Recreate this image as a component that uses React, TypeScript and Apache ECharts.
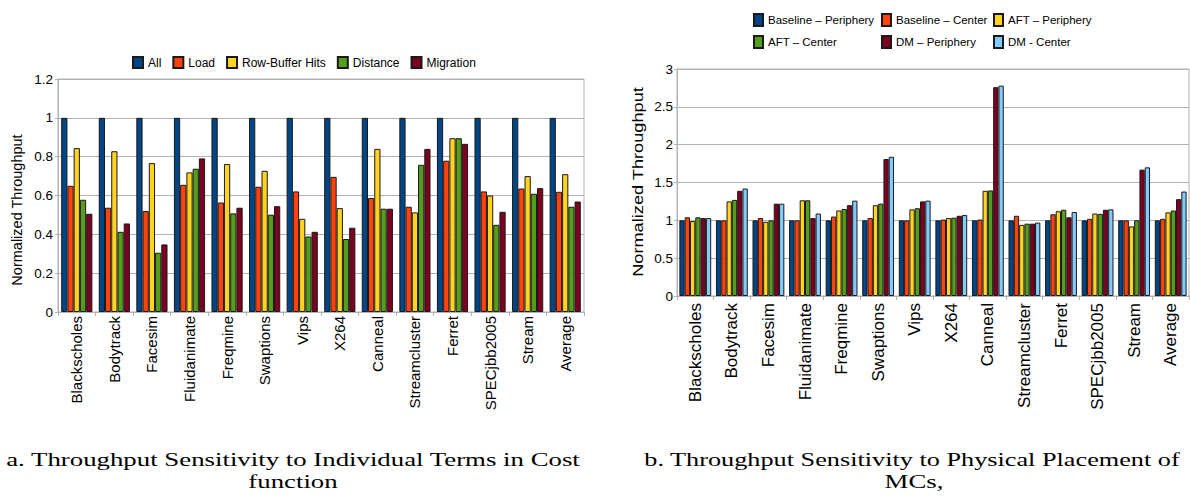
import React, { useEffect, useRef } from "react";
import * as echarts from "echarts";

const categories = [
  "Blackscholes", "Bodytrack", "Facesim", "Fluidanimate", "Freqmine", "Swaptions", "Vips",
  "X264", "Canneal", "Streamcluster", "Ferret", "SPECjbb2005", "Stream", "Average",
];

// Chart a: sensitivity to individual terms
const termNames = ["All", "Load", "Row-Buffer Hits", "Distance", "Migration"];
const allTerm = [1, 1, 1, 1, 1, 1, 1, 1, 1, 1, 1, 1, 1, 1];
const loadTerm = [0.65, 0.537, 0.52, 0.655, 0.564, 0.645, 0.621, 0.696, 0.587, 0.542, 0.779, 0.621, 0.636, 0.619];
const rowBufferTerm = [0.844, 0.828, 0.767, 0.719, 0.762, 0.727, 0.48, 0.535, 0.84, 0.513, 0.895, 0.6, 0.7, 0.71];
const distanceTerm = [0.578, 0.413, 0.305, 0.738, 0.508, 0.501, 0.389, 0.376, 0.532, 0.758, 0.895, 0.449, 0.609, 0.542];
const migrationTerm = [0.506, 0.456, 0.348, 0.791, 0.537, 0.545, 0.413, 0.434, 0.532, 0.84, 0.866, 0.516, 0.638, 0.569];
const termColors = ["#004586", "#ff420e", "#ffd320", "#579d1c", "#7e0021"];

// Chart b: sensitivity to physical placement of MCs
const placementNames = [
  "Baseline – Periphery", "Baseline – Center", "AFT – Periphery",
  "AFT – Center", "DM – Periphery", "DM - Center",
];
const baselinePeriphery = [1, 1, 1, 1, 1, 1, 1, 1, 1, 1, 1, 1, 1, 1];
const baselineCenter = [1.04, 1.0, 1.03, 1.0, 1.05, 1.03, 1.0, 1.01, 1.01, 1.06, 1.08, 1.02, 1.0, 1.02];
const aftPeriphery = [0.99, 1.25, 0.98, 1.265, 1.13, 1.2, 1.145, 1.03, 1.39, 0.94, 1.12, 1.09, 0.92, 1.105];
const aftCenter = [1.04, 1.27, 1.0, 1.265, 1.15, 1.22, 1.16, 1.035, 1.395, 0.956, 1.14, 1.085, 1.0, 1.13];
const dmPeriphery = [1.03, 1.39, 1.22, 1.03, 1.2, 1.81, 1.25, 1.06, 2.76, 0.956, 1.04, 1.14, 1.67, 1.28];
const dmCenter = [1.03, 1.42, 1.22, 1.09, 1.26, 1.84, 1.26, 1.07, 2.78, 0.97, 1.11, 1.145, 1.7, 1.38];
const placementColors = ["#004586", "#ff420e", "#ffd320", "#579d1c", "#7e0021", "#83caff"];

const yTitle = "Normalized Throughput";
const captionA1 = "a. Throughput Sensitivity to Individual Terms in Cost";
const captionA2 = "function";
const captionB1 = "b. Throughput Sensitivity to Physical Placement of";
const captionB2 = "MCs,";

const SANS = '"Liberation Sans", Arial, sans-serif';
const SERIF = '"Liberation Serif", "DejaVu Serif", serif';
const GRID = "#b3b3b3";

export default function App() {
  const ref = useRef<HTMLDivElement>(null);
  useEffect(() => {
    if (!ref.current) return;
    const chart = echarts.init(ref.current, null, { renderer: "svg" });
    const termData = [allTerm, loadTerm, rowBufferTerm, distanceTerm, migrationTerm];
    const placementData = [baselinePeriphery, baselineCenter, aftPeriphery, aftCenter, dmPeriphery, dmCenter];

    const xAxisCommon = (gridIndex: number, fontSize: number, margin: number) => ({
      type: "category",
      gridIndex,
      data: categories,
      axisLine: { show: true, lineStyle: { color: GRID, width: 1 } },
      axisTick: { show: true, length: 4, lineStyle: { color: GRID } },
      axisLabel: {
        rotate: 90,
        interval: 0,
        fontSize,
        margin,
        color: "#000",
        fontFamily: SANS,
      },
    });

    const rightLegend = (names: string[], left: number) => ({
      data: names,
      orient: "vertical",
      left,
      top: 8,
      itemWidth: 9,
      itemHeight: 12,
      itemGap: 8,
      icon: "rect",
      textStyle: { fontSize: 11.5, lineHeight: 14, fontFamily: SANS, color: "#000" },
    });

    const option: any = {
      animation: false,
      backgroundColor: "#fff",
      legend: [
        {
          data: termNames,
          left: 127,
          top: 51,
          itemWidth: 10,
          itemHeight: 11,
          itemGap: 11,
          icon: "rect",
          textStyle: { fontSize: 12, fontFamily: SANS, color: "#000" },
        },
        rightLegend([placementNames[0], placementNames[3]], 748),
        rightLegend([placementNames[1], placementNames[4]], 876),
        rightLegend([placementNames[2], placementNames[5]], 988),
      ],
      grid: [
        { left: 58, top: 79, width: 526, height: 233, show: true, borderColor: GRID, borderWidth: 1, containLabel: false },
        { left: 677, top: 69, width: 512, height: 227, show: true, borderColor: GRID, borderWidth: 1, containLabel: false },
      ],
      xAxis: [xAxisCommon(0, 15, 4), xAxisCommon(1, 17, 7)],
      yAxis: [
        {
          type: "value",
          gridIndex: 0,
          min: 0,
          max: 1.2,
          interval: 0.2,
          axisLine: { show: true, lineStyle: { color: GRID } },
          axisTick: { show: true, length: 3, lineStyle: { color: GRID } },
          splitLine: { show: true, lineStyle: { color: GRID, width: 1 } },
          axisLabel: { fontSize: 13.5, margin: 5, color: "#000", fontFamily: SANS },
        },
        {
          type: "value",
          gridIndex: 1,
          min: 0,
          max: 3,
          interval: 0.5,
          axisLine: { show: true, lineStyle: { color: GRID } },
          axisTick: { show: true, length: 3, lineStyle: { color: GRID } },
          splitLine: { show: true, lineStyle: { color: GRID, width: 1 } },
          axisLabel: { fontSize: 13.5, margin: 4, color: "#000", fontFamily: SANS },
        },
      ],
      series: [
        ...termNames.map((name, i) => ({
          name,
          type: "bar",
          xAxisIndex: 0,
          yAxisIndex: 0,
          data: termData[i],
          barGap: "0%",
          barCategoryGap: "17%",
          itemStyle: { color: termColors[i], borderColor: "#1a1a1a", borderWidth: 1 },
        })),
        ...placementNames.map((name, i) => ({
          name,
          type: "bar",
          xAxisIndex: 1,
          yAxisIndex: 1,
          data: placementData[i],
          barGap: "0%",
          barCategoryGap: "13%",
          itemStyle: { color: placementColors[i], borderColor: "#1a1a1a", borderWidth: 1 },
        })),
      ],
      graphic: [
        {
          type: "text",
          x: 17,
          y: 210,
          rotation: Math.PI / 2,
          style: { text: yTitle, fontSize: 14.5, fontFamily: SANS, fill: "#000", align: "center", verticalAlign: "middle" },
        },
        {
          type: "text",
          x: 638,
          y: 182,
          rotation: Math.PI / 2,
          scaleX: 1.3,
          style: { text: yTitle, fontSize: 14, fontFamily: SANS, fill: "#000", align: "center", verticalAlign: "middle" },
        },
        {
          type: "text",
          x: 293,
          y: 460,
          scaleX: 1.45,
          style: { text: captionA1, fontSize: 18.5, fontFamily: SERIF, fill: "#000", align: "center", verticalAlign: "middle" },
        },
        {
          type: "text",
          x: 293,
          y: 482,
          scaleX: 1.45,
          style: { text: captionA2, fontSize: 18.5, fontFamily: SERIF, fill: "#000", align: "center", verticalAlign: "middle" },
        },
        {
          type: "text",
          x: 912,
          y: 460,
          scaleX: 1.42,
          style: { text: captionB1, fontSize: 18.5, fontFamily: SERIF, fill: "#000", align: "center", verticalAlign: "middle" },
        },
        {
          type: "text",
          x: 914,
          y: 482,
          scaleX: 1.45,
          style: { text: captionB2, fontSize: 18.5, fontFamily: SERIF, fill: "#000", align: "center", verticalAlign: "middle" },
        },
      ],
    };
    chart.setOption(option);
    return () => chart.dispose();
  }, []);
  return (
    <div
      ref={ref}
      style={{ position: "absolute", left: 0, top: 0, width: 1190, height: 497, background: "#fff" }}
    />
  );
}
